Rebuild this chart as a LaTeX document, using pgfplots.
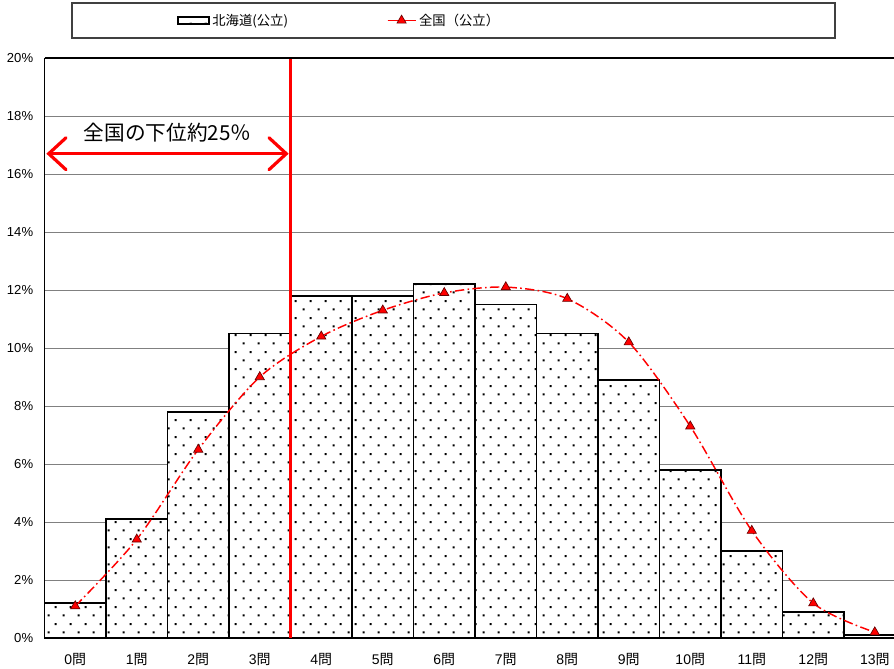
\documentclass[border=0pt]{standalone}
\usepackage{pgfplots}
\pgfplotsset{compat=1.18}
\usepackage{pgfplotstable}
\usepackage{fontspec}
\setmainfont{Liberation Sans}
\newfontfamily\jp{Noto Sans CJK JP}
\usetikzlibrary{patterns,arrows.meta}
\pgfdeclarepatternformonly{sparsedots}{\pgfqpoint{0pt}{0pt}}{\pgfqpoint{11.25pt}{12.5pt}}{\pgfqpoint{11.25pt}{12.5pt}}{%
 \pgfpathrectangle{\pgfqpoint{2pt}{2pt}}{\pgfqpoint{1.6pt}{1.6pt}}%
 \pgfpathrectangle{\pgfqpoint{7.6pt}{8.25pt}}{\pgfqpoint{1.6pt}{1.6pt}}%
 \pgfusepath{fill}}
\pgfplotstableread{
x hok zen
0 1.2 1.1
1 4.1 3.4
2 7.8 6.5
3 10.5 9.0
4 11.8 10.4
5 11.8 11.3
6 12.2 11.9
7 11.5 12.1
8 10.5 11.7
9 8.9 10.2
10 5.8 7.3
11 3.0 3.7
12 0.9 1.2
13 0.1 0.2
}\datatable
\pgfplotstableread{
x y
3.5 0
3.5 20
}\cutline
\pgfplotsset{
  barlegend/.style={legend image code/.code={\draw[draw=black, line width=1.3pt, fill=white, postaction={pattern=sparsedots}] (0pt,-2.8pt) rectangle (23pt,2.8pt);}},
  linelegend/.style={legend image code/.code={\draw[red, line width=1.3pt, solid] (0pt,0pt) -- (7pt,0pt) (14pt,0pt) -- (21pt,0pt);
     \draw[red, solid, mark=triangle*, mark size=4pt, mark options={solid, fill=red, draw=black!60!red, line width=0.5pt}, mark repeat=2, mark phase=2] plot coordinates {(0pt,0pt) (10.5pt,0pt) (21pt,0pt)};}},
}
\begin{document}
\begin{tikzpicture}
\begin{axis}[
  scale only axis, width=645.75pt, height=435pt,
  xmin=-0.5, xmax=13.5, ymin=0, ymax=20,
  axis x line*=bottom, axis y line*=left,
  axis line style={line width=1.1pt, black},
  ytick={0,2,4,6,8,10,12,14,16,18,20},
  yticklabels={0\%,2\%,4\%,6\%,8\%,10\%,12\%,14\%,16\%,18\%,20\%},
  xtick={0,1,2,3,4,5,6,7,8,9,10,11,12,13},
  xticklabels={{0{\jp 問}},{1{\jp 問}},{2{\jp 問}},{3{\jp 問}},{4{\jp 問}},{5{\jp 問}},{6{\jp 問}},{7{\jp 問}},{8{\jp 問}},{9{\jp 問}},{10{\jp 問}},{11{\jp 問}},{12{\jp 問}},{13{\jp 問}}},
  /pgf/number format/assume math mode=true,
  major tick length=0pt,
  ymajorgrids, grid style={gray, line width=0.75pt},
  yticklabel style={font=\fontsize{9.8}{11}\selectfont, xshift=-5pt},
  xticklabel style={font=\fontsize{10.5}{12}\selectfont, yshift=-8pt},
  clip=false,
  legend columns=2,
  legend style={draw=none, fill=none, at={(0.1539,1.0647)}, anchor=west, inner xsep=0pt,
    font=\fontsize{10}{12}\selectfont, /tikz/every even column/.append style={column sep=72pt}},
]
\addplot[ybar, bar width=1, bar shift=0pt, draw=black, line width=1.3pt, fill=white, postaction={pattern=sparsedots}, barlegend]
  table[x=x, y=hok] {\datatable};
\addlegendentry{\jp 北海道(公立)}
\addplot[red, line width=1.1pt, smooth, dash pattern=on 7pt off 2.5pt on 1.2pt off 2.5pt,
  mark=triangle*, mark size=4pt, mark options={solid, fill=red, draw=black!60!red, line width=0.5pt}, linelegend]
  table[x=x, y=zen] {\datatable};
\addlegendentry{\jp 全国（公立）}
\addplot[red, line width=2.25pt, forget plot] table[x=x, y=y] {\cutline};
\draw[black, line width=1.1pt] (axis description cs:0,1) -- (axis description cs:1,1);
\draw[red, line width=2.4pt, {Straight Barb[length=13pt,width=24pt,line cap=round]}-{Straight Barb[length=13pt,width=24pt,line cap=round]}]
  (axis cs:-0.47,16.7) -- (axis cs:3.47,16.7);
\node[font=\fontsize{15.5}{18}\selectfont\jp] at (axis cs:1.503,17.41) {全国の下位約25％};
\draw[black!75, line width=0.9pt] (axis description cs:0.0319,1.0345) rectangle (axis description cs:0.918,1.0948);
\coordinate (imgBL) at (axis description cs:-0.0517,-0.0534);
\coordinate (imgTR) at (axis description cs:0.9866,1.1);
\end{axis}
\pgfresetboundingbox
\path (imgBL) rectangle (imgTR);
\end{tikzpicture}
\end{document}
